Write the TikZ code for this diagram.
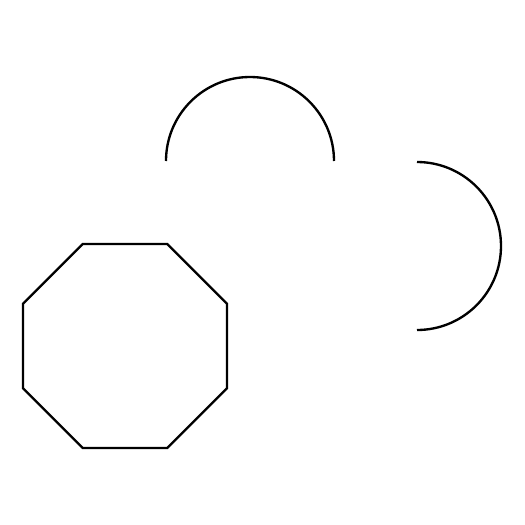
\documentclass[tikz,border=0pt]{standalone}
\usepackage{tikz}

\begin{document}
\begin{tikzpicture}[x=0.03cm, y=-0.03cm]
  \filldraw[fill=white, draw=none] (0,0) rectangle (525,525);
  \draw[black, line width=2pt] (166,161) arc[start angle=180, end angle=360, radius=84];
  \draw[black, line width=2pt] (417,162) arc[start angle=-90, end angle=90, radius=84];
  \draw[black, line width=2pt] (82.75,244) -- (167.25,244) -- (227,303.75) -- (227,388.25)
    -- (167.25,448) -- (82.75,448) -- (23,388.25) -- (23,303.75) -- cycle;
\end{tikzpicture}
\end{document}
